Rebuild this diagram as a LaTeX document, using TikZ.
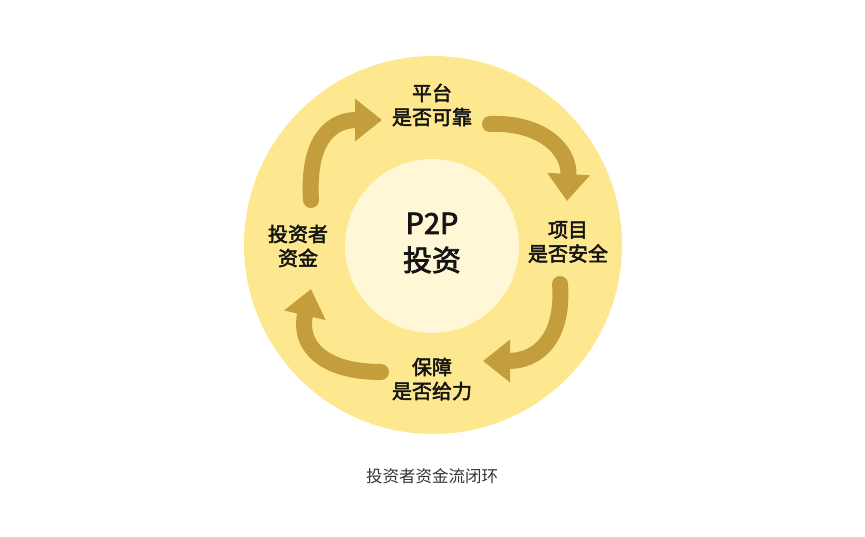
\documentclass[tikz,border=0pt]{standalone}
\usepackage{fontspec}
\setmainfont{Noto Sans CJK SC}
\newfontfamily\cjk{Noto Sans CJK SC}
\newfontfamily\cjkmed[FakeBold=2.5]{Noto Sans CJK SC}
\usetikzlibrary{arrows.meta}
\definecolor{ringfill}{RGB}{253,231,143}
\definecolor{corefill}{RGB}{255,247,213}
\definecolor{flowcol}{RGB}{196,158,60}
\definecolor{inkcol}{RGB}{20,20,20}
\definecolor{capcol}{RGB}{51,51,51}
\begin{document}
\begin{tikzpicture}[
    x=1pt, y=-1pt,
    every node/.style={font=\cjk, text=inkcol},
    lbl/.style={align=center, font=\cjkmed\fontsize{20}{24}\selectfont},
    core/.style={align=center, font=\cjkmed\fontsize{29}{37}\selectfont},
    flow/.style={draw=flowcol, line width=16pt, line cap=round,
                 -{Triangle[width=41pt,length=27pt]}},
]
\useasboundingbox (0,0) rectangle (865,536);
% rings
\fill[ringfill] (433,245) circle (189);
\fill[corefill] (432,246) circle (87);
% labels
\node[core] (p2p)  at (432,243) {P2P\\投资};
\node[lbl]  (plat) at (432,105) {平台\\是否可靠};
\node[lbl]  (proj) at (568,242) {项目\\是否安全};
\node[lbl]  (guar) at (432,379) {保障\\是否给力};
\node[lbl]  (inv)  at (298,246) {投资者\\资金};
\node[font=\cjk\fontsize{16.5}{20}\selectfont, text=capcol] (cap) at (432,476) {投资者资金流闭环};
% arrow ends
\coordinate (f1s) at (311,200); \coordinate (f1e) at (382,120);
\coordinate (f2s) at (490,124); \coordinate (f2e) at (567,201);
\coordinate (f3s) at (560,284); \coordinate (f3e) at (483,361);
\coordinate (f4s) at (381,372); \coordinate (f4e) at (311,289);
% cycle arrows
\draw[flow] (f1s) .. controls (307,135) and (335,120) .. (f1e);
\draw[flow] (f2s) .. controls (542,122) and (570,150) .. (f2e);
\draw[flow] (f3s) .. controls (564,338) and (538,361) .. (f3e);
\draw[flow] (f4s) .. controls (322,372) and (298,345) .. (f4e);
\end{tikzpicture}
\end{document}
